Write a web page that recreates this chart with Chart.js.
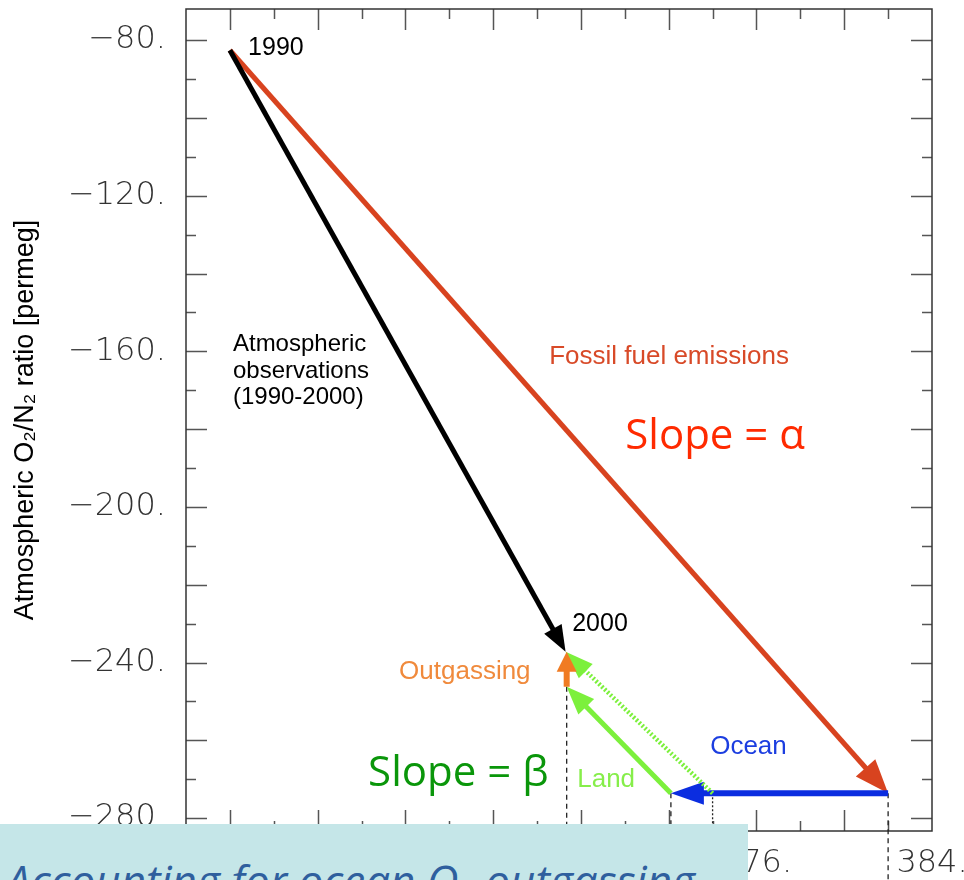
<!DOCTYPE html>
<html>
<head>
<meta charset="utf-8">
<title>Atmospheric O2/N2 vs CO2</title>
<script src="https://cdn.jsdelivr.net/npm/chart.js@4.4.1/dist/chart.umd.min.js"></script>
<style>
  body { margin: 0; background: #fff; }
  #wrap { position: relative; width: 964px; height: 880px; overflow: hidden; }
  #note-box { position: absolute; left: 0; top: 824px; width: 748px; height: 56px; background: #c5e6e8; overflow: hidden; }
  #note-box span { position: absolute; left: 6px; top: 34px; font: italic 44px/44px "Open Sans", sans-serif; color: #2f5f9e; white-space: nowrap; }
</style>
</head>
<body>
<div id="wrap">
  <canvas id="o2-chart" width="964" height="880"></canvas>
  <div id="note-box"><span>Accounting for ocean O₂ outgassing</span></div>
</div>
<script>
"use strict";

// axis ranges and labelled ticks
let xMin = 350;
let xMax = 384;
let yMin = -283.3;
let yMax = -72;
let xTickLabels = [352, 360, 368, 376, 384];
let yTickLabels = [-80, -120, -160, -200, -240, -280];

// arrows, [start, end]: x = CO2, y = O2/N2
let obsX = [352, 367.3];
let obsY = [-82.6, -237.2];
let fossilX = [352, 382];
let fossilY = [-82.6, -273.6];
let oceanX = [382, 372.1];
let oceanY = [-273.6, -273.6];
let landX = [372.1, 367.35];
let landY = [-273.6, -246.2];
let outgasX = [367.35, 367.35];
let outgasY = [-246.2, -237.2];
let landNetX = [374.0, 367.3];
let landNetY = [-273.6, -237.2];

// dashed drop lines down to the axis
let dropX = [367.35, 372.1, 374.0, 382];
let dropTopY = [-246.2, -273.6, -273.6, -273.6];
let dropBottomY = -296;

// text notes (left / baseline)
let noteText = ["1990", "2000", "Atmospheric", "observations", "(1990-2000)",
  "Fossil fuel emissions", "Slope = α", "Outgassing", "Ocean", "Land", "Slope = β"];
let noteX = [352.83, 367.6, 352.14, 352.14, 352.14, 366.55, 370.02, 359.71, 373.89, 367.83, 358.3];
let noteY = [-83.86, -231.93, -159.95, -166.76, -173.57, -163.29, -185.14, -244.27, -263.55, -272.03, -271.77];

let noteFont = [
  '25px "Liberation Sans"', '25px "Liberation Sans"',
  '24px "Liberation Sans"', '24px "Liberation Sans"', '24px "Liberation Sans"',
  '26px "Liberation Sans"', '42px "Open Sans"', '26px "Liberation Sans"',
  '26px "Liberation Sans"', '26px "Liberation Sans"', '42px "Open Sans"'
];
let noteColor = ["#000", "#000", "#000", "#000", "#000",
  "#d84a28", "#ff2a00", "#f08a3c", "#1c3ee0", "#86ee4a", "#0a960a"];

function toPoints(xs, ys) {
  let pts = [];
  for (let i = 0; i < xs.length; i++) {
    pts.push({ x: xs[i], y: ys[i] });
  }
  return pts;
}

function arrow(xs, ys, color, width, headLength, headWidth, dash) {
  return {
    data: toPoints(xs, ys),
    showLine: true,
    borderColor: color,
    backgroundColor: color,
    borderWidth: width,
    borderDash: dash || [],
    borderCapStyle: "butt",
    pointRadius: 0,
    clip: false,
    headLength: headLength,
    headWidth: headWidth,
  };
}

function dropLine(i) {
  return {
    data: toPoints([dropX[i], dropX[i]], [dropTopY[i], dropBottomY]),
    showLine: true,
    borderColor: "#222",
    borderWidth: 1.3,
    borderDash: i === 2 ? [2, 2] : [5, 4],
    pointRadius: 0,
    clip: false,
  };
}

// first dataset is drawn on top
let datasets = [
  arrow(obsX, obsY, "#000000", 5, 26, 20),
  arrow(outgasX, outgasY, "#f07b22", 6, 20, 20),
  arrow(landNetX, landNetY, "#7cf03c", 4.5, 28, 20, [2, 2]),
  arrow(landX, landY, "#7cf03c", 5, 28, 22),
  arrow(oceanX, oceanY, "#0b2de0", 6, 33, 23),
  arrow(fossilX, fossilY, "#d8431f", 5, 34, 26),
];
for (let i = 0; i < dropX.length; i++) {
  datasets.push(dropLine(i));
}

function formatTick(value) {
  return (value < 0 ? "\u2212" : "") + Math.abs(value) + ".";
}

function headShape(meta, ds) {
  let pts = meta.data;
  let a = pts[pts.length - 2];
  let b = pts[pts.length - 1];
  let dx = b.x - a.x;
  let dy = b.y - a.y;
  let d = Math.hypot(dx, dy);
  let ux = dx / d;
  let uy = dy / d;
  let bx = b.x - ux * ds.headLength;
  let by = b.y - uy * ds.headLength;
  return { tipX: b.x, tipY: b.y, baseX: bx, baseY: by, ux: ux, uy: uy };
}

let arrowHeads = {
  id: "arrowHeads",
  beforeDatasetDraw(chart, args) {
    let ds = chart.data.datasets[args.index];
    if (!ds.headLength) return;
    let h = headShape(args.meta, ds);
    let c = chart.ctx;
    let r = ds.headWidth / 2 + ds.borderWidth;
    let s0x = h.baseX + h.ux;
    let s0y = h.baseY + h.uy;
    let s1x = h.tipX + h.ux * ds.borderWidth;
    let s1y = h.tipY + h.uy * ds.borderWidth;
    // keep the line out of the arrowhead
    c.save();
    c.beginPath();
    c.rect(0, 0, chart.width, chart.height);
    c.moveTo(s0x - h.uy * r, s0y + h.ux * r);
    c.lineTo(s1x - h.uy * r, s1y + h.ux * r);
    c.lineTo(s1x + h.uy * r, s1y - h.ux * r);
    c.lineTo(s0x + h.uy * r, s0y - h.ux * r);
    c.closePath();
    c.clip("evenodd");
  },
  afterDatasetDraw(chart, args) {
    let ds = chart.data.datasets[args.index];
    if (!ds.headLength) return;
    let c = chart.ctx;
    c.restore();
    let h = headShape(args.meta, ds);
    let hw = ds.headWidth / 2;
    c.save();
    c.fillStyle = ds.borderColor;
    c.beginPath();
    c.moveTo(h.tipX, h.tipY);
    c.lineTo(h.baseX - h.uy * hw, h.baseY + h.ux * hw);
    c.lineTo(h.baseX + h.uy * hw, h.baseY - h.ux * hw);
    c.closePath();
    c.fill();
    c.restore();
  },
};

// box with inward ticks on all four sides
let frameTicks = {
  id: "frameTicks",
  beforeDatasetsDraw(chart) {
    let c = chart.ctx;
    let area = chart.chartArea;
    let xs = chart.scales.x;
    let ys = chart.scales.y;
    c.save();
    c.strokeStyle = "#555";
    c.lineWidth = 1.5;
    c.beginPath();
    for (let v = xMin + 2; v < xMax; v += 2) {
      let px = Math.round(xs.getPixelForValue(v)) + 0.5;
      let len = v % 4 === 0 ? 21 : 10;
      c.moveTo(px, area.top);
      c.lineTo(px, area.top + len);
      c.moveTo(px, area.bottom);
      c.lineTo(px, area.bottom - len);
    }
    for (let v = -280; v <= -80; v += 10) {
      let py = Math.round(ys.getPixelForValue(v)) + 0.5;
      let len = v % 20 === 0 ? 21 : 10;
      c.moveTo(area.left, py);
      c.lineTo(area.left + len, py);
      c.moveTo(area.right, py);
      c.lineTo(area.right - len, py);
    }
    c.stroke();
    c.strokeStyle = "#333";
    c.strokeRect(area.left, area.top, area.right - area.left, area.bottom - area.top);
    c.restore();
  },
};

let notes = {
  id: "notes",
  afterDatasetsDraw(chart) {
    let c = chart.ctx;
    let xs = chart.scales.x;
    let ys = chart.scales.y;
    c.save();
    c.textAlign = "left";
    c.textBaseline = "alphabetic";
    for (let i = 0; i < noteText.length; i++) {
      c.font = noteFont[i];
      c.fillStyle = noteColor[i];
      c.fillText(noteText[i], xs.getPixelForValue(noteX[i]), ys.getPixelForValue(noteY[i]));
    }
    c.restore();
  },
};

let tickFont = { family: "DejaVu Sans", size: 32, weight: 200 };

let chart = new Chart(document.getElementById("o2-chart"), {
  type: "scatter",
  data: { datasets: datasets },
  options: {
    responsive: false,
    animation: false,
    layout: { padding: { top: 9, right: 32, left: 0, bottom: 0 } },
    plugins: {
      legend: { display: false },
      tooltip: { enabled: false },
    },
    scales: {
      x: {
        type: "linear",
        min: xMin,
        max: xMax,
        grid: { display: false, drawTicks: false },
        border: { display: false },
        afterBuildTicks: (scale) => {
          scale.ticks = xTickLabels.map((v) => ({ value: v }));
        },
        afterFit: (scale) => {
          scale.height = 49;
          scale.paddingLeft = 0;
          scale.paddingRight = 0;
        },
        ticks: {
          padding: 13,
          color: "#333",
          font: tickFont,
          maxRotation: 0,
          autoSkip: false,
          callback: formatTick,
        },
      },
      y: {
        type: "linear",
        min: yMin,
        max: yMax,
        grid: { display: false, drawTicks: false },
        border: { display: false },
        afterBuildTicks: (scale) => {
          scale.ticks = yTickLabels.map((v) => ({ value: v }));
        },
        afterFit: (scale) => {
          scale.width = 186;
          scale.paddingTop = 0;
          scale.paddingBottom = 0;
        },
        ticks: {
          padding: 20,
          color: "#333",
          font: tickFont,
          autoSkip: false,
          callback: formatTick,
        },
        title: {
          display: true,
          text: "Atmospheric O₂/N₂ ratio [permeg]",
          color: "#000",
          font: { family: "Liberation Sans", size: 27 },
          padding: { top: 9, bottom: 0 },
        },
      },
    },
  },
  plugins: [frameTicks, arrowHeads, notes],
});
</script>
</body>
</html>
